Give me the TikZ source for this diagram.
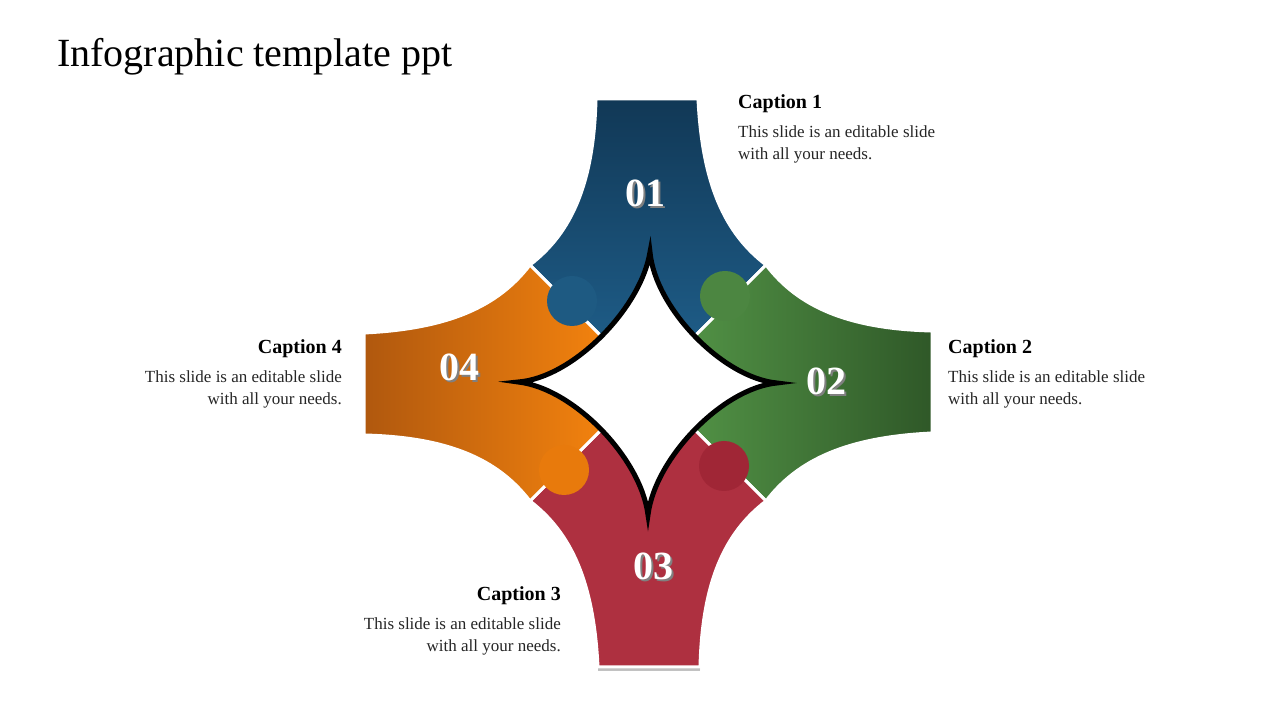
\documentclass[tikz,border=0pt]{standalone}
\usepackage{fontspec}
\setmainfont{Liberation Serif}
\begin{document}
\begin{tikzpicture}[x=1pt,y=1pt,
  numtxt/.style={text=white,font=\fontsize{40}{40}\selectfont\bfseries},
  captitle/.style={font=\fontsize{20}{22}\selectfont\bfseries,inner sep=0pt},
  capbody/.style={font=\fontsize{17}{22}\selectfont,inner sep=0pt,text=black!85},
  gapline/.style={draw=white,line width=3pt},
  dot/.style={circle,minimum size=50pt,inner sep=0pt}]
\useasboundingbox (0,0) rectangle (1280,720);
\fill[white] (0,0) rectangle (1280,720);
\node[anchor=west,inner sep=0pt,font=\fontsize{40}{44}\selectfont] (title) at (57,663) {Infographic template ppt};
\def\arm{(-52,284) -- (50,284) .. controls (54,200) and (76,150) .. (118,118) -- (0,0) -- (-118,118) .. controls (-76,150) and (-54,200) .. (-52,284) -- cycle}
\begin{scope}[shift={(648,337)}]
 \fill[top color=black!35,bottom color=black!5,opacity=0.3] (-50,-288) rectangle (52,-280);
 \begin{scope}\path[top color=blue!20!black!80!cyan!60!black, top color={rgb,255:red,17;green,56;blue,86}, bottom color={rgb,255:red,32;green,98;blue,143}] \arm;\draw[gapline] \arm;\end{scope}
 \begin{scope}[rotate=-90]\path[left color={rgb,255:red,87;green,155;blue,74}, right color={rgb,255:red,47;green,88;blue,40}] \arm;\draw[gapline] \arm;\end{scope}
 \begin{scope}[rotate=180]\path[fill={rgb,255:red,174;green,48;blue,64}] \arm;\draw[gapline] \arm;\end{scope}
 \begin{scope}[rotate=90]\path[left color={rgb,255:red,176;green,88;blue,14}, right color={rgb,255:red,255;green,138;blue,14}] \arm;\draw[gapline] \arm;\end{scope}
 \node[dot,fill={rgb,255:red,30;green,90;blue,130}] (c1) at (-76,82) {};
 \node[dot,fill={rgb,255:red,76;green,134;blue,65}] (c2) at (77,87) {};
 \node[dot,fill={rgb,255:red,160;green,38;blue,54}] (c3) at (76,-83) {};
 \node[dot,fill={rgb,255:red,232;green,122;blue,12}] (c4) at (-84,-87) {};
 \draw[fill=white,line width=5pt,line join=miter] (2,131) .. controls (7,75) and (75,5) .. (129,0) .. controls (75,-5) and (7,-75) .. (0,-132) .. controls (-7,-75) and (-75,-5) .. (-130,1) .. controls (-75,5) and (-7,75) .. (2,131) -- cycle;
\end{scope}
\foreach \n/\t/\x/\y in {n1/01/645/527, n2/02/826/339, n3/03/653/154, n4/04/459/353}{
  \node[text=black!50,font=\fontsize{40}{40}\selectfont\bfseries] at (\x+2,\y-2) {\t};
  \node[numtxt] (\n) at (\x,\y) {\t};}
\node[captitle,anchor=west] (t1) at (738,616) {Caption 1};
\node[capbody,anchor=north west,align=left] (b1) at (738,594) {This slide is an editable slide\\with all your needs.};
\node[captitle,anchor=west] (t2) at (948,371) {Caption 2};
\node[capbody,anchor=north west,align=left] (b2) at (948,349) {This slide is an editable slide\\with all your needs.};
\node[captitle,anchor=east] (t4) at (342,371) {Caption 4};
\node[capbody,anchor=north east,align=right] (b4) at (342,349) {This slide is an editable slide\\with all your needs.};
\node[captitle,anchor=east] (t3) at (561,124) {Caption 3};
\node[capbody,anchor=north east,align=right] (b3) at (561,102) {This slide is an editable slide\\with all your needs.};
\end{tikzpicture}
\end{document}
